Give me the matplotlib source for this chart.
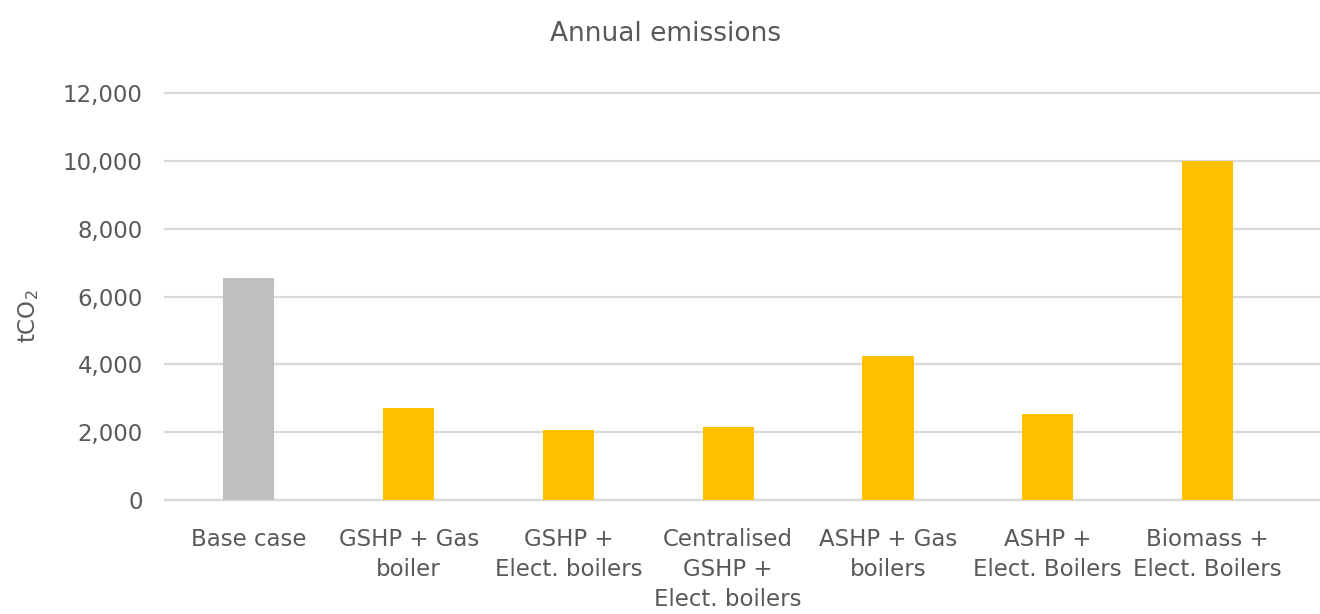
import matplotlib
matplotlib.use("Agg")
import matplotlib.pyplot as plt
import numpy as np

# dane wykresu
categories = ["Base case", "GSHP + Gas\nboiler", "GSHP +\nElect. boilers",
              "Centralised\nGSHP +\nElect. boilers", "ASHP + Gas\nboilers",
              "ASHP +\nElect. Boilers", "Biomass +\nElect. Boilers"]
emissions = [6550, 2700, 2070, 2150, 4250, 2550, 10000]
bar_colors = ["#BFBFBF", "#FFC000", "#FFC000", "#FFC000", "#FFC000", "#FFC000", "#FFC000"]
y_ticks = [0, 2000, 4000, 6000, 8000, 10000, 12000]

text_col = "#595959"
grid_col = "#D9D9D9"
plt.rcParams['font.family'] = ['DejaVu Sans']

fig = plt.figure(figsize=(13.2, 6.14), dpi=100)
ax = fig.add_axes([0.125, 0.1857, 0.875, 0.6628])

x = np.arange(len(categories))
ax.bar(x, emissions, width=0.32, color=bar_colors, zorder=3)

ax.set_ylim(0, 12000)
ax.set_xlim(-0.525, 6.704)
ax.set_yticks(y_ticks)
ax.set_yticklabels(["{:,}".format(v) for v in y_ticks])
ax.set_xticks(x)
ax.set_xticklabels(categories, linespacing=1.4)

ax.yaxis.grid(True, color=grid_col, linewidth=1.6, zorder=0)
for gl in ax.get_ygridlines():
    gl.set_clip_on(False)
ax.set_axisbelow(True)
for s in ["top", "right", "left"]:
    ax.spines[s].set_visible(False)
ax.spines["bottom"].set_color(grid_col)
ax.spines["bottom"].set_linewidth(1.6)

ax.tick_params(axis="both", length=0, labelsize=16.5, colors=text_col)
ax.tick_params(axis="y", pad=16)
ax.tick_params(axis="x", pad=20)

fig.text(0.5045, 0.945, "Annual emissions", ha="center", va="center",
         fontsize=19, color=text_col)
fig.text(0.022, 0.485, "tCO$_2$", ha="center", va="center", rotation=90,
         fontsize=16.5, color=text_col)

fig.savefig("out.png", dpi=100)
